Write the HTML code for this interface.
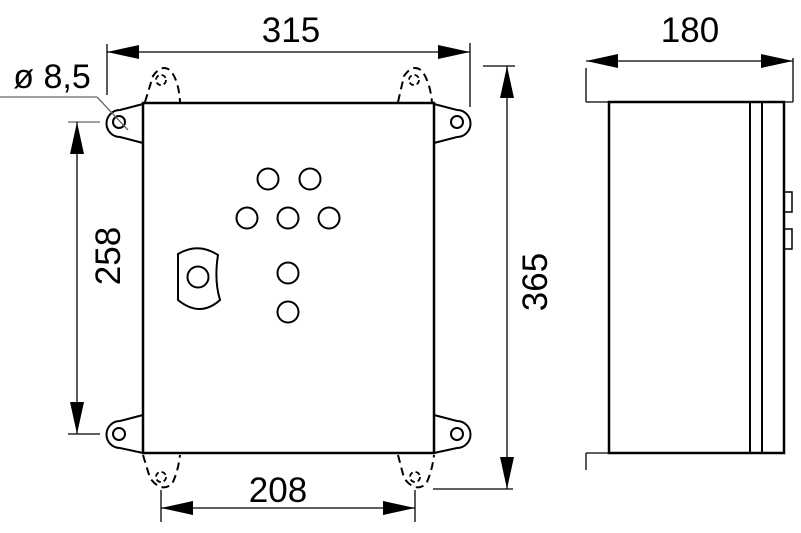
<!DOCTYPE html>
<html><head><style>html,body{margin:0;padding:0;background:#fff}svg{display:block}</style></head><body>
<svg width="801" height="533" viewBox="0 0 801 533" xmlns="http://www.w3.org/2000/svg" font-family="Liberation Sans, Arial, sans-serif">
<g fill="none" stroke="#000">
<!-- front box -->
<rect x="143" y="103" width="291" height="350" stroke-width="2.5"/>
<!-- ears -->
<path d="M143,104 L120,110 A13,13 0 0 0 120,137 L143,143" stroke-width="2"/>
<circle cx="119" cy="122" r="6" stroke-width="2"/>
<path d="M434,104 L457,110 A13,13 0 0 1 457,137 L434,143" stroke-width="2"/>
<circle cx="457" cy="122" r="6" stroke-width="2"/>
<path d="M143,415 L120,421 A13,13 0 0 0 120,448 L143,453" stroke-width="2"/>
<circle cx="119" cy="434" r="6" stroke-width="2"/>
<path d="M434,415 L457,421 A13,13 0 0 1 457,448 L434,453" stroke-width="2"/>
<circle cx="457" cy="434" r="6" stroke-width="2"/>
<!-- dashed ears -->
<g stroke-dasharray="8,5" stroke-width="2">
<path d="M145,102 L153,76 Q162,63 171,71 Q179,82 180,102"/>
<path d="M398,102 L404,76 Q413,63 422,71 Q430,82 432,102"/>
<path d="M143,455 L150,478 Q161,493 172,484 Q178,472 180,455"/>
<path d="M398,455 L404,478 Q415,493 426,484 Q432,472 434,455"/>
</g>
<g stroke-dasharray="5,3" stroke-width="1.8">
<circle cx="161" cy="80" r="5"/><circle cx="414" cy="80" r="5"/>
<circle cx="161" cy="477" r="5"/><circle cx="415" cy="477" r="5"/>
</g>
<!-- buttons -->
<g stroke-width="2">
<circle cx="268" cy="179" r="10.5"/><circle cx="310" cy="179" r="10.5"/>
<circle cx="247" cy="218" r="10.5"/><circle cx="288" cy="218" r="10.5"/><circle cx="329" cy="218" r="10.5"/>
<circle cx="288" cy="273" r="10.5"/><circle cx="288" cy="312" r="10.5"/>
<path d="M178,254 Q198,242 218,255 Q214,280 220,300 Q200,318 178,300 Z"/>
<circle cx="198" cy="277" r="10.5"/>
</g>
<!-- side view -->
<rect x="609" y="102" width="175" height="351" stroke-width="2.5"/>
<line x1="750" y1="102" x2="750" y2="453" stroke-width="2"/>
<line x1="762" y1="102" x2="762" y2="453" stroke-width="2"/>
<rect x="784" y="192" width="8" height="20" stroke-width="1.5"/>
<rect x="784" y="229" width="8" height="20" stroke-width="1.5"/>
<g stroke-width="1.3">
<line x1="586" y1="102" x2="793" y2="102"/>
<line x1="586" y1="453" x2="609" y2="453"/>
<line x1="586" y1="68" x2="586" y2="102"/>
<line x1="793" y1="58" x2="793" y2="102"/>
<line x1="586" y1="453" x2="586" y2="470"/>
<line x1="586" y1="61" x2="793" y2="61"/>
<!-- 315 -->
<line x1="107" y1="44" x2="107" y2="95"/>
<line x1="470" y1="43" x2="470" y2="107"/>
<line x1="107" y1="52" x2="470" y2="52"/>
<!-- 365 -->
<line x1="483" y1="66" x2="515" y2="66"/>
<line x1="433" y1="489" x2="513" y2="489"/>
<line x1="507" y1="66" x2="507" y2="489"/>
<!-- 258 -->
<line x1="68" y1="122" x2="100" y2="122" stroke="#666"/>
<line x1="68" y1="434" x2="100" y2="434"/>
<line x1="77" y1="122" x2="77" y2="434"/>
<!-- 208 -->
<line x1="161" y1="490" x2="161" y2="522"/>
<line x1="415" y1="490" x2="415" y2="522"/>
<line x1="161" y1="508" x2="415" y2="508"/>
<!-- leader -->
<line x1="0" y1="97" x2="97" y2="97" stroke="#666"/>
<line x1="97" y1="97" x2="128" y2="130" stroke="#666"/>
</g>
</g>
<g fill="#000">
<polygon points="107,52 139,45 139,59"/><polygon points="470,52 438,45 438,59"/>
<polygon points="586,61 618,54 618,68"/><polygon points="793,61 761,54 761,68"/>
<polygon points="507,66 500,98 514,98"/><polygon points="507,489 500,457 514,457"/>
<polygon points="77,122 70,154 84,154"/><polygon points="77,434 70,402 84,402"/>
<polygon points="161,508 193,501 193,515"/><polygon points="415,508 383,501 383,515"/>
</g>
<g font-size="35" fill="#000" text-anchor="middle">
<text x="291" y="42">315</text>
<text x="690" y="42">180</text>
<text x="278" y="502">208</text>
<text x="52" y="88" font-size="34">ø 8,5</text>
<text transform="translate(120,256) rotate(-90)">258</text>
<text transform="translate(547,282) rotate(-90)">365</text>
</g>
</svg>
</body></html>
